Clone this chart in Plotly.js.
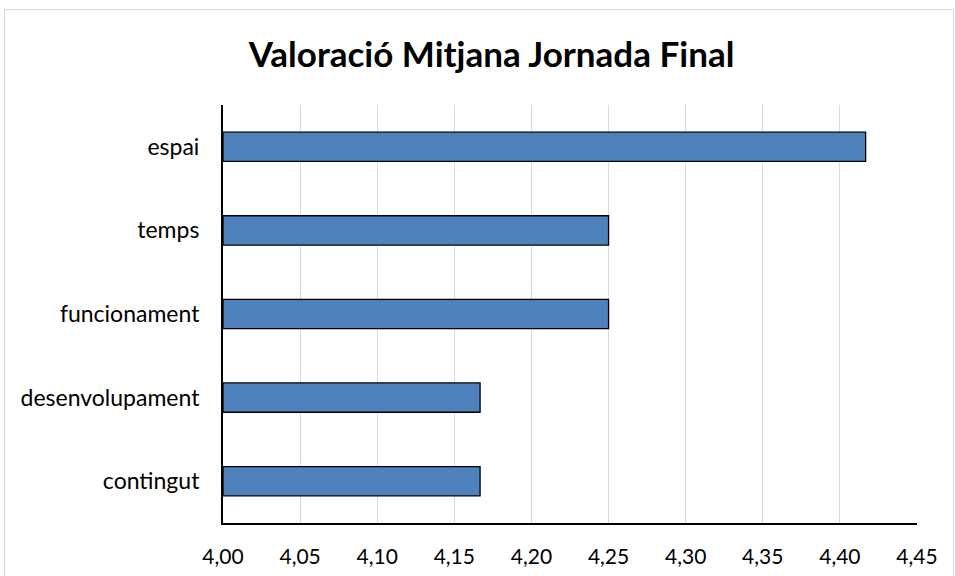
<!DOCTYPE html>
<html>
<head>
<meta charset="utf-8">
<script src="https://cdn.plot.ly/plotly-3.0.1.min.js"></script>
<style>
  html, body { margin: 0; padding: 0; background: #fff; }
  #wrap { position: relative; width: 955px; height: 576px; overflow: hidden; }
  #chart { position: absolute; left: 0; top: 0; width: 955px; height: 576px; }
  #frame { position: absolute; left: 4px; top: 9px; width: 948px; height: 600px; border: 1px solid #d9d9d9; pointer-events: none; }
</style>
</head>
<body>
<div id="wrap">
  <div id="chart"></div>
  <div id="frame"></div>
</div>
<script>
const categories = ["contingut", "desenvolupament", "funcionament", "temps", "espai"];
const values = [4.1667, 4.1667, 4.25, 4.25, 4.4167];
const tickVals = [4.00, 4.05, 4.10, 4.15, 4.20, 4.25, 4.30, 4.35, 4.40, 4.45];
const titleText = "Valoració Mitjana Jornada Final";
const axisMin = 4.0;

const font = "Lato, 'Open Sans', sans-serif";

Plotly.newPlot("chart", [{
  type: "bar",
  orientation: "h",
  y: categories,
  x: values.map(v => v - axisMin),
  base: axisMin,
  width: 0.35,
  marker: { color: "#4f81bd", line: { color: "#000000", width: 1.3 } },
  hoverinfo: "y"
}], {
  width: 955, height: 576,
  margin: { l: 223, r: 38, t: 105, b: 53 },
  paper_bgcolor: "rgba(0,0,0,0)",
  plot_bgcolor: "#ffffff",
  separators: ",.",
  showlegend: false,
  title: { text: "<b>" + titleText + "</b>", x: 0.5147, xanchor: "center", y: 0.905, yanchor: "middle",
           font: { family: font, size: 35, color: "#000000" } },
  xaxis: {
    range: [axisMin, 4.45],
    tickvals: tickVals,
    tickformat: ".2f",
    showgrid: true, gridcolor: "#d9d9d9", gridwidth: 1,
    showline: true, linecolor: "#000000", linewidth: 2,
    zeroline: false, ticks: "", ticklen: 0, ticklabelstandoff: 14,
    tickfont: { family: font, size: 21, color: "#000000" },
    fixedrange: true
  },
  yaxis: {
    range: [-0.5, 4.5],
    showgrid: false,
    showline: true, linecolor: "#000000", linewidth: 2,
    ticks: "", ticklabelstandoff: 17,
    tickfont: { family: font, size: 23, color: "#000000" },
    fixedrange: true
  }
}, { displayModeBar: false, staticPlot: true });
</script>
</body>
</html>
